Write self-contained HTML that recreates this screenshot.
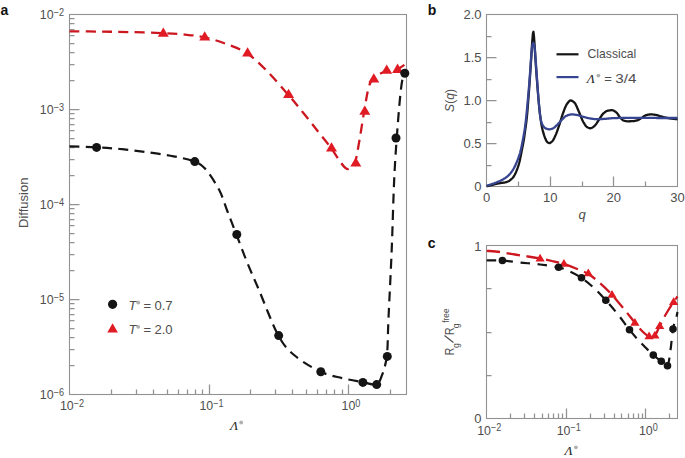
<!DOCTYPE html>
<html><head><meta charset="utf-8"><style>
html,body{margin:0;padding:0;background:#fff;}
body{width:685px;height:458px;overflow:hidden;}
svg{display:block;}
</style></head><body>
<svg width="685" height="458" viewBox="0 0 685 458">
<rect width="685" height="458" fill="#fff"/>
<rect x="69.50" y="14.50" width="337.00" height="380.00" fill="none" stroke="#929292" stroke-width="1.1"/>
<path d="M111.50,394.50V389.50 M136.50,394.50V389.50 M153.50,394.50V389.50 M167.50,394.50V389.50 M178.50,394.50V389.50 M187.50,394.50V389.50 M195.50,394.50V389.50 M202.50,394.50V389.50 M209.50,394.50V384.50 M250.50,394.50V389.50 M275.50,394.50V389.50 M292.50,394.50V389.50 M306.50,394.50V389.50 M317.50,394.50V389.50 M326.50,394.50V389.50 M334.50,394.50V389.50 M342.50,394.50V389.50 M348.50,394.50V384.50 M390.50,394.50V389.50 M69.50,365.50H74.50 M69.50,349.50H74.50 M69.50,337.50H74.50 M69.50,328.50H74.50 M69.50,320.50H74.50 M69.50,314.50H74.50 M69.50,308.50H74.50 M69.50,303.50H74.50 M69.50,299.50H79.50 M69.50,270.50H74.50 M69.50,254.50H74.50 M69.50,242.50H74.50 M69.50,233.50H74.50 M69.50,225.50H74.50 M69.50,219.50H74.50 M69.50,213.50H74.50 M69.50,208.50H74.50 M69.50,204.50H79.50 M69.50,175.50H74.50 M69.50,159.50H74.50 M69.50,147.50H74.50 M69.50,138.50H74.50 M69.50,130.50H74.50 M69.50,124.50H74.50 M69.50,118.50H74.50 M69.50,113.50H74.50 M69.50,109.50H79.50 M69.50,80.50H74.50 M69.50,64.50H74.50 M69.50,52.50H74.50 M69.50,43.50H74.50 M69.50,35.50H74.50 M69.50,29.50H74.50 M69.50,23.50H74.50 M69.50,18.50H74.50" stroke="#929292" stroke-width="1.25" fill="none"/>
<g font-family='"Liberation Sans", sans-serif' fill="#4e4e4e">
<text transform="translate(64.00,19.20) scale(0.91,1)" text-anchor="end" font-size="13.6">10<tspan font-size="10" dy="-3.6">−2</tspan></text>
<text transform="translate(64.00,114.20) scale(0.91,1)" text-anchor="end" font-size="13.6">10<tspan font-size="10" dy="-3.6">−3</tspan></text>
<text transform="translate(64.00,209.20) scale(0.91,1)" text-anchor="end" font-size="13.6">10<tspan font-size="10" dy="-3.6">−4</tspan></text>
<text transform="translate(64.00,304.20) scale(0.91,1)" text-anchor="end" font-size="13.6">10<tspan font-size="10" dy="-3.6">−5</tspan></text>
<text transform="translate(64.00,399.20) scale(0.91,1)" text-anchor="end" font-size="13.6">10<tspan font-size="10" dy="-3.6">−6</tspan></text>
<text transform="translate(72.00,410.30) scale(0.91,1)" text-anchor="middle" font-size="13.6">10<tspan font-size="10" dy="-3.6">−2</tspan></text>
<text transform="translate(211.50,410.30) scale(0.91,1)" text-anchor="middle" font-size="13.6">10<tspan font-size="10" dy="-3.6">−1</tspan></text>
<text transform="translate(351.00,410.30) scale(0.91,1)" text-anchor="middle" font-size="13.6">10<tspan font-size="10" dy="-3.6">0</tspan></text>
<text x="229.90" y="430.40" font-family='"Liberation Serif", serif' font-style="italic" font-size="13.5" fill="#2a2a2a">Λ</text>
<circle cx="241.20" cy="422.50" r="1.9" fill="#b0b0b0"/>
<text transform="translate(27.6,202.8) rotate(-90)" text-anchor="middle" font-size="13">Diffusion</text>
</g>
<path d="M69.50,31.30 C74.58,31.35 89.92,31.47 100.00,31.60 C110.08,31.73 119.58,31.85 130.00,32.10 C140.42,32.35 153.33,32.68 162.50,33.10 C171.67,33.52 178.08,33.92 185.00,34.60 C191.92,35.28 197.33,35.72 204.00,37.20 C210.67,38.68 217.85,40.83 225.00,43.50 C232.15,46.17 239.90,48.62 246.90,53.20 C253.90,57.78 260.17,64.13 267.00,71.00 C273.83,77.87 281.90,87.48 287.90,94.40 C293.90,101.32 297.98,106.32 303.00,112.50 C308.02,118.68 313.33,125.58 318.00,131.50 C322.67,137.42 327.33,143.00 331.00,148.00 C334.67,153.00 337.47,158.07 340.00,161.50 C342.53,164.93 344.37,167.55 346.20,168.60 C348.03,169.65 349.50,168.90 351.00,167.80 C352.50,166.70 353.78,166.63 355.20,162.00 C356.62,157.37 358.00,148.48 359.50,140.00 C361.00,131.52 362.70,119.77 364.20,111.10 C365.70,102.43 367.12,93.27 368.50,88.00 C369.88,82.73 370.75,81.75 372.50,79.50 C374.25,77.25 376.70,75.92 379.00,74.50 C381.30,73.08 383.30,71.87 386.30,71.00 C389.30,70.13 393.63,70.55 397.00,69.30 C400.37,68.05 404.92,64.47 406.50,63.50" fill="none" stroke="#cc1720" stroke-width="2.3" stroke-dasharray="10 6.3"/>
<path d="M69.50,146.40 C73.93,146.53 87.68,146.77 96.10,147.20 C104.52,147.63 111.82,148.22 120.00,149.00 C128.18,149.78 136.27,150.68 145.20,151.90 C154.13,153.12 165.42,154.70 173.60,156.30 C181.78,157.90 189.07,159.47 194.30,161.50 C199.53,163.53 200.88,163.82 205.00,168.50 C209.12,173.18 215.25,182.43 219.00,189.60 C222.75,196.77 224.62,204.07 227.50,211.50 C230.38,218.93 233.05,225.78 236.30,234.20 C239.55,242.62 243.17,252.57 247.00,262.00 C250.83,271.43 254.10,278.58 259.30,290.80 C264.50,303.02 272.30,324.52 278.20,335.30 C284.10,346.08 287.68,349.45 294.70,355.50 C301.72,361.55 312.42,367.83 320.30,371.60 C328.18,375.37 334.98,376.35 342.00,378.10 C349.02,379.85 356.73,381.07 362.40,382.10 C368.07,383.13 372.82,385.23 376.00,384.30 C379.18,383.37 379.70,381.20 381.50,376.50 C383.30,371.80 385.63,365.85 386.80,356.10 C387.97,346.35 387.68,335.68 388.50,318.00 C389.32,300.32 390.72,273.83 391.70,250.00 C392.68,226.17 393.30,197.03 394.40,175.00 C395.50,152.97 397.12,132.80 398.30,117.80 C399.48,102.80 400.50,92.47 401.50,85.00 C402.50,77.53 403.83,75.00 404.30,73.00" fill="none" stroke="#151515" stroke-width="2.2" stroke-dasharray="10 6.3"/>
<path d="M163.30,27.52L168.80,36.82L157.80,36.82Z" fill="#e01b24"/>
<path d="M204.70,31.22L210.20,40.52L199.20,40.52Z" fill="#e01b24"/>
<path d="M247.60,47.22L253.10,56.52L242.10,56.52Z" fill="#e01b24"/>
<path d="M288.60,88.82L294.10,98.12L283.10,98.12Z" fill="#e01b24"/>
<path d="M331.50,142.22L337.00,151.52L326.00,151.52Z" fill="#e01b24"/>
<path d="M355.80,157.22L361.30,166.52L350.30,166.52Z" fill="#e01b24"/>
<path d="M364.80,105.42L370.30,114.72L359.30,114.72Z" fill="#e01b24"/>
<path d="M373.80,73.22L379.30,82.52L368.30,82.52Z" fill="#e01b24"/>
<path d="M386.70,64.42L392.20,73.72L381.20,73.72Z" fill="#e01b24"/>
<path d="M397.60,63.62L403.10,72.92L392.10,72.92Z" fill="#e01b24"/>
<circle cx="96.60" cy="147.40" r="4.50" fill="#151515"/>
<circle cx="194.80" cy="161.60" r="4.50" fill="#151515"/>
<circle cx="236.80" cy="234.50" r="4.50" fill="#151515"/>
<circle cx="278.70" cy="335.60" r="4.50" fill="#151515"/>
<circle cx="320.80" cy="371.80" r="4.50" fill="#151515"/>
<circle cx="362.90" cy="382.40" r="4.50" fill="#151515"/>
<circle cx="376.70" cy="384.60" r="4.50" fill="#151515"/>
<circle cx="387.30" cy="356.40" r="4.50" fill="#151515"/>
<circle cx="396.00" cy="138.00" r="4.50" fill="#151515"/>
<circle cx="404.80" cy="73.30" r="4.50" fill="#151515"/>
<circle cx="112.60" cy="304.30" r="4.60" fill="#151515"/>
<path d="M112.60,323.16L117.90,332.56L107.30,332.56Z" fill="#e01b24"/>
<g font-family='"Liberation Sans", sans-serif' fill="#4e4e4e" font-size="13">
<text x="128.6" y="309.7" font-style="italic">T</text>
<circle cx="138.20" cy="302.50" r="1.9" fill="#b0b0b0"/>
<text x="143.6" y="309.7">=</text>
<text x="154.4" y="309.7" textLength="18.2" lengthAdjust="spacingAndGlyphs">0.7</text>
<text x="128.6" y="334.0" font-style="italic">T</text>
<circle cx="138.20" cy="326.80" r="1.9" fill="#b0b0b0"/>
<text x="143.6" y="334.0">=</text>
<text x="154.4" y="334.0" textLength="18.2" lengthAdjust="spacingAndGlyphs">2.0</text>
</g>
<g font-family='"Liberation Sans", sans-serif' font-weight="bold" fill="#111" font-size="14">
<text x="0.5" y="15.2">a</text>
<text x="427.8" y="15.3">b</text>
<text x="427.8" y="248">c</text>
</g>
<rect x="486.50" y="14.50" width="191.00" height="172.00" fill="none" stroke="#929292" stroke-width="1.1"/>
<path d="M518.50,186.50V181.50 M550.50,186.50V176.50 M582.50,186.50V181.50 M613.50,186.50V176.50 M645.50,186.50V181.50 M486.50,165.50H491.50 M486.50,143.50H496.50 M486.50,122.50H491.50 M486.50,100.50H496.50 M486.50,79.50H491.50 M486.50,57.50H496.50 M486.50,36.50H491.50" stroke="#929292" stroke-width="1.25" fill="none"/>
<g font-family='"Liberation Sans", sans-serif' fill="#4e4e4e" font-size="13">
<text x="481.6" y="191.10" text-anchor="end">0</text>
<text x="481.6" y="148.10" text-anchor="end">0.5</text>
<text x="481.6" y="105.10" text-anchor="end">1.0</text>
<text x="481.6" y="62.10" text-anchor="end">1.5</text>
<text x="481.6" y="19.10" text-anchor="end">2.0</text>
<text x="486.50" y="201.6" text-anchor="middle">0</text>
<text x="550.17" y="201.6" text-anchor="middle">10</text>
<text x="613.83" y="201.6" text-anchor="middle">20</text>
<text x="677.50" y="201.6" text-anchor="middle">30</text>
<text x="582" y="218.5" text-anchor="middle" font-style="italic">q</text>
<text transform="translate(453.8,100.45) rotate(-90)" text-anchor="middle" textLength="22.9" lengthAdjust="spacingAndGlyphs"><tspan font-style="italic">S</tspan>(<tspan font-style="italic">q</tspan>)</text>
<text x="587.6" y="57.9" font-size="13.6" textLength="48.6" lengthAdjust="spacingAndGlyphs">Classical</text>
<text x="586.80" y="82.70" font-family='"Liberation Serif", serif' font-style="italic" font-size="13.5" fill="#2a2a2a">Λ</text>
<circle cx="598.40" cy="75.60" r="1.9" fill="#b0b0b0"/>
<text x="604.2" y="82.7">=</text>
<text x="615.2" y="82.7" textLength="21.2" lengthAdjust="spacingAndGlyphs">3/4</text>
</g>
<path d="M556.5,54.3H578.5" stroke="#151515" stroke-width="2.2"/>
<path d="M556.5,77.1H578.5" stroke="#374590" stroke-width="2.2"/>
<path d="M486.60,186.26 L487.11,186.14 L487.62,186.02 L488.13,185.90 L488.64,185.78 L489.15,185.66 L489.65,185.54 L490.16,185.42 L490.67,185.30 L491.18,185.17 L491.69,185.05 L492.20,184.92 L492.71,184.79 L493.22,184.65 L493.73,184.52 L494.24,184.38 L494.75,184.24 L495.25,184.11 L495.76,183.99 L496.27,183.87 L496.78,183.76 L497.29,183.66 L497.80,183.56 L498.31,183.47 L498.82,183.38 L499.33,183.29 L499.84,183.21 L500.34,183.12 L500.85,183.04 L501.36,182.96 L501.87,182.89 L502.38,182.82 L502.89,182.75 L503.40,182.69 L503.91,182.61 L504.42,182.53 L504.93,182.43 L505.44,182.31 L505.94,182.18 L506.45,182.03 L506.96,181.87 L507.47,181.69 L507.98,181.48 L508.49,181.26 L509.00,180.98 L509.51,180.63 L510.02,180.23 L510.53,179.80 L511.04,179.38 L511.54,178.95 L512.05,178.49 L512.56,177.99 L513.07,177.43 L513.58,176.78 L514.09,175.98 L514.60,175.06 L515.11,174.06 L515.62,173.02 L516.13,171.90 L516.63,170.68 L517.14,169.37 L517.65,167.97 L518.16,166.46 L518.67,164.80 L519.18,162.98 L519.69,160.91 L520.20,158.56 L520.71,156.04 L521.22,153.43 L521.73,150.82 L522.23,148.29 L522.74,145.74 L523.25,143.08 L523.76,140.20 L524.27,136.98 L524.78,133.42 L525.29,129.69 L525.80,125.97 L526.31,122.09 L526.82,117.68 L527.33,112.29 L527.83,106.10 L528.34,99.64 L528.85,92.90 L529.36,85.84 L529.87,78.63 L530.38,71.23 L530.89,63.53 L531.40,54.90 L531.91,46.24 L532.42,39.37 L532.93,33.35 L533.43,31.75 L533.94,36.06 L534.45,42.78 L534.96,50.45 L535.47,59.48 L535.98,67.19 L536.49,74.20 L537.00,80.86 L537.51,87.38 L538.02,93.77 L538.52,99.75 L539.03,105.25 L539.54,110.29 L540.05,114.57 L540.56,118.50 L541.07,122.07 L541.58,125.19 L542.09,127.75 L542.60,129.96 L543.11,131.94 L543.62,133.72 L544.12,135.30 L544.63,136.73 L545.14,138.05 L545.65,139.33 L546.16,140.47 L546.67,141.36 L547.18,141.91 L547.69,142.33 L548.20,142.68 L548.71,142.95 L549.22,143.08 L549.72,143.06 L550.23,142.88 L550.74,142.57 L551.25,142.17 L551.76,141.72 L552.27,141.25 L552.78,140.63 L553.29,139.85 L553.80,138.93 L554.31,137.92 L554.81,136.85 L555.32,135.77 L555.83,134.63 L556.34,133.38 L556.85,132.04 L557.36,130.62 L557.87,129.16 L558.38,127.67 L558.89,126.18 L559.40,124.68 L559.91,123.08 L560.41,121.42 L560.92,119.73 L561.43,118.04 L561.94,116.39 L562.45,114.82 L562.96,113.37 L563.47,111.98 L563.98,110.59 L564.49,109.22 L565.00,107.92 L565.51,106.71 L566.01,105.63 L566.52,104.71 L567.03,103.96 L567.54,103.23 L568.05,102.52 L568.56,101.86 L569.07,101.29 L569.58,100.85 L570.09,100.55 L570.60,100.45 L571.11,100.50 L571.61,100.65 L572.12,100.89 L572.63,101.19 L573.14,101.55 L573.65,101.95 L574.16,102.38 L574.67,102.86 L575.18,103.53 L575.69,104.40 L576.20,105.42 L576.70,106.55 L577.21,107.75 L577.72,108.98 L578.23,110.20 L578.74,111.37 L579.25,112.50 L579.76,113.72 L580.27,114.98 L580.78,116.27 L581.29,117.56 L581.80,118.80 L582.30,119.97 L582.81,121.05 L583.32,121.99 L583.83,122.86 L584.34,123.71 L584.85,124.54 L585.36,125.31 L585.87,125.99 L586.38,126.56 L586.89,127.00 L587.40,127.30 L587.90,127.56 L588.41,127.80 L588.92,128.01 L589.43,128.16 L589.94,128.25 L590.45,128.27 L590.96,128.20 L591.47,128.03 L591.98,127.78 L592.49,127.48 L592.99,127.14 L593.50,126.77 L594.01,126.39 L594.52,125.97 L595.03,125.44 L595.54,124.82 L596.05,124.11 L596.56,123.36 L597.07,122.57 L597.58,121.78 L598.09,121.00 L598.59,120.26 L599.10,119.52 L599.61,118.72 L600.12,117.90 L600.63,117.07 L601.14,116.27 L601.65,115.50 L602.16,114.80 L602.67,114.19 L603.18,113.69 L603.69,113.22 L604.19,112.77 L604.70,112.35 L605.21,111.95 L605.72,111.60 L606.23,111.29 L606.74,111.04 L607.25,110.85 L607.76,110.73 L608.27,110.62 L608.78,110.52 L609.29,110.43 L609.79,110.35 L610.30,110.29 L610.81,110.23 L611.32,110.20 L611.83,110.19 L612.34,110.21 L612.85,110.32 L613.36,110.50 L613.87,110.74 L614.38,111.04 L614.88,111.38 L615.39,111.74 L615.90,112.12 L616.41,112.51 L616.92,112.99 L617.43,113.64 L617.94,114.38 L618.45,115.19 L618.96,115.99 L619.47,116.75 L619.98,117.41 L620.48,117.94 L620.99,118.45 L621.50,118.95 L622.01,119.43 L622.52,119.85 L623.03,120.22 L623.54,120.51 L624.05,120.70 L624.56,120.83 L625.07,120.95 L625.58,121.05 L626.08,121.14 L626.59,121.22 L627.10,121.27 L627.61,121.29 L628.12,121.30 L628.63,121.29 L629.14,121.29 L629.65,121.27 L630.16,121.26 L630.67,121.24 L631.17,121.22 L631.68,121.19 L632.19,121.17 L632.70,121.14 L633.21,121.11 L633.72,121.06 L634.23,120.99 L634.74,120.91 L635.25,120.81 L635.76,120.70 L636.27,120.58 L636.77,120.44 L637.28,120.30 L637.79,120.14 L638.30,119.91 L638.81,119.64 L639.32,119.34 L639.83,119.01 L640.34,118.67 L640.85,118.32 L641.36,117.99 L641.87,117.68 L642.37,117.37 L642.88,117.03 L643.39,116.67 L643.90,116.32 L644.41,115.99 L644.92,115.68 L645.43,115.41 L645.94,115.21 L646.45,115.07 L646.96,114.95 L647.47,114.84 L647.97,114.74 L648.48,114.65 L648.99,114.57 L649.50,114.50 L650.01,114.45 L650.52,114.42 L651.03,114.41 L651.54,114.41 L652.05,114.44 L652.56,114.47 L653.06,114.52 L653.57,114.58 L654.08,114.65 L654.59,114.73 L655.10,114.80 L655.61,114.88 L656.12,114.97 L656.63,115.07 L657.14,115.20 L657.65,115.34 L658.16,115.50 L658.66,115.67 L659.17,115.84 L659.68,116.00 L660.19,116.17 L660.70,116.32 L661.21,116.46 L661.72,116.60 L662.23,116.73 L662.74,116.87 L663.25,117.01 L663.76,117.14 L664.26,117.27 L664.77,117.40 L665.28,117.52 L665.79,117.63 L666.30,117.73 L666.81,117.83 L667.32,117.93 L667.83,118.02 L668.34,118.11 L668.85,118.20 L669.35,118.28 L669.86,118.36 L670.37,118.44 L670.88,118.51 L671.39,118.58 L671.90,118.64 L672.41,118.71 L672.92,118.77 L673.43,118.83 L673.94,118.89 L674.45,118.95 L674.95,119.00 L675.46,119.05 L675.97,119.10 L676.48,119.15 L676.99,119.19 L677.50,119.23" fill="none" stroke="#151515" stroke-width="2.3" stroke-linejoin="round"/>
<path d="M486.60,185.74 L487.11,185.60 L487.62,185.46 L488.13,185.31 L488.64,185.16 L489.15,185.00 L489.65,184.85 L490.16,184.69 L490.67,184.52 L491.18,184.36 L491.69,184.19 L492.20,184.02 L492.71,183.84 L493.22,183.66 L493.73,183.47 L494.24,183.29 L494.75,183.09 L495.25,182.90 L495.76,182.70 L496.27,182.50 L496.78,182.29 L497.29,182.08 L497.80,181.87 L498.31,181.66 L498.82,181.44 L499.33,181.21 L499.84,180.98 L500.34,180.74 L500.85,180.50 L501.36,180.25 L501.87,179.99 L502.38,179.72 L502.89,179.44 L503.40,179.15 L503.91,178.85 L504.42,178.53 L504.93,178.20 L505.44,177.86 L505.94,177.49 L506.45,177.11 L506.96,176.72 L507.47,176.30 L507.98,175.86 L508.49,175.40 L509.00,174.91 L509.51,174.38 L510.02,173.82 L510.53,173.21 L511.04,172.57 L511.54,171.89 L512.05,171.17 L512.56,170.41 L513.07,169.60 L513.58,168.75 L514.09,167.85 L514.60,166.88 L515.11,165.83 L515.62,164.73 L516.13,163.57 L516.63,162.38 L517.14,161.15 L517.65,159.88 L518.16,158.55 L518.67,157.13 L519.18,155.63 L519.69,154.04 L520.20,152.32 L520.71,150.42 L521.22,148.25 L521.73,145.85 L522.23,143.26 L522.74,140.58 L523.25,137.86 L523.76,135.08 L524.27,132.13 L524.78,128.89 L525.29,125.15 L525.80,120.84 L526.31,116.15 L526.82,111.04 L527.33,105.63 L527.83,100.09 L528.34,94.42 L528.85,88.52 L529.36,82.30 L529.87,75.37 L530.38,67.81 L530.89,60.57 L531.40,54.28 L531.91,48.51 L532.42,45.26 L532.93,43.29 L533.43,42.80 L533.94,44.15 L534.45,46.52 L534.96,51.21 L535.47,57.38 L535.98,64.01 L536.49,71.42 L537.00,78.86 L537.51,85.84 L538.02,92.78 L538.52,99.26 L539.03,104.96 L539.54,110.40 L540.05,115.07 L540.56,118.37 L541.07,120.76 L541.58,122.63 L542.09,124.02 L542.60,125.12 L543.11,125.97 L543.62,126.59 L544.12,127.13 L544.63,127.61 L545.14,128.02 L545.65,128.36 L546.16,128.61 L546.67,128.79 L547.18,128.94 L547.69,129.08 L548.20,129.19 L548.71,129.27 L549.22,129.31 L549.72,129.30 L550.23,129.24 L550.74,129.13 L551.25,128.99 L551.76,128.83 L552.27,128.64 L552.78,128.45 L553.29,128.21 L553.80,127.89 L554.31,127.51 L554.81,127.08 L555.32,126.62 L555.83,126.14 L556.34,125.67 L556.85,125.20 L557.36,124.70 L557.87,124.17 L558.38,123.61 L558.89,123.04 L559.40,122.47 L559.91,121.90 L560.41,121.35 L560.92,120.82 L561.43,120.31 L561.94,119.76 L562.45,119.20 L562.96,118.64 L563.47,118.10 L563.98,117.57 L564.49,117.09 L565.00,116.66 L565.51,116.30 L566.01,116.01 L566.52,115.80 L567.03,115.59 L567.54,115.39 L568.05,115.20 L568.56,115.02 L569.07,114.86 L569.58,114.72 L570.09,114.60 L570.60,114.51 L571.11,114.44 L571.61,114.41 L572.12,114.41 L572.63,114.42 L573.14,114.46 L573.65,114.50 L574.16,114.55 L574.67,114.62 L575.18,114.69 L575.69,114.77 L576.20,114.85 L576.70,114.94 L577.21,115.03 L577.72,115.12 L578.23,115.22 L578.74,115.35 L579.25,115.50 L579.76,115.65 L580.27,115.82 L580.78,116.00 L581.29,116.17 L581.80,116.35 L582.30,116.51 L582.81,116.67 L583.32,116.82 L583.83,116.96 L584.34,117.10 L584.85,117.24 L585.36,117.38 L585.87,117.51 L586.38,117.65 L586.89,117.78 L587.40,117.90 L587.90,118.02 L588.41,118.13 L588.92,118.24 L589.43,118.33 L589.94,118.41 L590.45,118.49 L590.96,118.57 L591.47,118.66 L591.98,118.74 L592.49,118.82 L592.99,118.89 L593.50,118.96 L594.01,119.02 L594.52,119.08 L595.03,119.13 L595.54,119.17 L596.05,119.20 L596.56,119.22 L597.07,119.23 L597.58,119.23 L598.09,119.22 L598.59,119.21 L599.10,119.19 L599.61,119.17 L600.12,119.14 L600.63,119.12 L601.14,119.09 L601.65,119.06 L602.16,119.02 L602.67,118.99 L603.18,118.96 L603.69,118.93 L604.19,118.89 L604.70,118.86 L605.21,118.83 L605.72,118.79 L606.23,118.74 L606.74,118.70 L607.25,118.65 L607.76,118.60 L608.27,118.55 L608.78,118.50 L609.29,118.45 L609.79,118.40 L610.30,118.35 L610.81,118.31 L611.32,118.26 L611.83,118.22 L612.34,118.19 L612.85,118.16 L613.36,118.13 L613.87,118.11 L614.38,118.09 L614.88,118.08 L615.39,118.06 L615.90,118.04 L616.41,118.03 L616.92,118.01 L617.43,118.00 L617.94,117.99 L618.45,117.97 L618.96,117.96 L619.47,117.95 L619.98,117.93 L620.48,117.92 L620.99,117.91 L621.50,117.90 L622.01,117.89 L622.52,117.89 L623.03,117.88 L623.54,117.87 L624.05,117.87 L624.56,117.86 L625.07,117.86 L625.58,117.85 L626.08,117.85 L626.59,117.85 L627.10,117.85 L627.61,117.85 L628.12,117.85 L628.63,117.85 L629.14,117.85 L629.65,117.85 L630.16,117.85 L630.67,117.85 L631.17,117.85 L631.68,117.85 L632.19,117.85 L632.70,117.85 L633.21,117.85 L633.72,117.85 L634.23,117.85 L634.74,117.85 L635.25,117.85 L635.76,117.85 L636.27,117.85 L636.77,117.85 L637.28,117.85 L637.79,117.85 L638.30,117.85 L638.81,117.85 L639.32,117.85 L639.83,117.85 L640.34,117.85 L640.85,117.85 L641.36,117.86 L641.87,117.86 L642.37,117.86 L642.88,117.86 L643.39,117.87 L643.90,117.87 L644.41,117.87 L644.92,117.88 L645.43,117.88 L645.94,117.89 L646.45,117.89 L646.96,117.90 L647.47,117.90 L647.97,117.90 L648.48,117.91 L648.99,117.91 L649.50,117.92 L650.01,117.92 L650.52,117.93 L651.03,117.93 L651.54,117.93 L652.05,117.94 L652.56,117.94 L653.06,117.95 L653.57,117.95 L654.08,117.95 L654.59,117.96 L655.10,117.96 L655.61,117.97 L656.12,117.97 L656.63,117.98 L657.14,117.98 L657.65,117.99 L658.16,117.99 L658.66,117.99 L659.17,118.00 L659.68,118.00 L660.19,118.01 L660.70,118.01 L661.21,118.01 L661.72,118.02 L662.23,118.02 L662.74,118.02 L663.25,118.02 L663.76,118.02 L664.26,118.02 L664.77,118.02 L665.28,118.02 L665.79,118.02 L666.30,118.02 L666.81,118.02 L667.32,118.02 L667.83,118.02 L668.34,118.02 L668.85,118.02 L669.35,118.02 L669.86,118.02 L670.37,118.02 L670.88,118.02 L671.39,118.02 L671.90,118.02 L672.41,118.02 L672.92,118.02 L673.43,118.02 L673.94,118.02 L674.45,118.02 L674.95,118.02 L675.46,118.02 L675.97,118.02 L676.48,118.02 L676.99,118.02 L677.50,118.02" fill="none" stroke="#374590" stroke-width="2.3" stroke-linejoin="round"/>
<rect x="486.50" y="245.50" width="191.00" height="173.00" fill="none" stroke="#929292" stroke-width="1.1"/>
<path d="M510.50,418.50V413.50 M524.50,418.50V413.50 M534.50,418.50V413.50 M542.50,418.50V413.50 M548.50,418.50V413.50 M553.50,418.50V413.50 M558.50,418.50V413.50 M562.50,418.50V413.50 M566.50,418.50V408.50 M590.50,418.50V413.50 M604.50,418.50V413.50 M614.50,418.50V413.50 M621.50,418.50V413.50 M628.50,418.50V413.50 M633.50,418.50V413.50 M638.50,418.50V413.50 M642.50,418.50V413.50 M645.50,418.50V408.50 M669.50,418.50V413.50 M486.50,375.50H491.50 M486.50,332.50H491.50 M486.50,288.50H491.50" stroke="#929292" stroke-width="1.25" fill="none"/>
<g font-family='"Liberation Sans", sans-serif' fill="#4e4e4e">
<text x="481.4" y="250.7" text-anchor="end" font-size="13">1</text>
<text x="481.4" y="423.2" text-anchor="end" font-size="13">0</text>
<text transform="translate(489.20,434.90) scale(0.91,1)" text-anchor="middle" font-size="13.6">10<tspan font-size="10" dy="-3.6">−2</tspan></text>
<text transform="translate(568.80,434.90) scale(0.91,1)" text-anchor="middle" font-size="13.6">10<tspan font-size="10" dy="-3.6">−1</tspan></text>
<text transform="translate(648.40,434.90) scale(0.91,1)" text-anchor="middle" font-size="13.6">10<tspan font-size="10" dy="-3.6">0</tspan></text>
<text x="564.60" y="455.20" font-family='"Liberation Serif", serif' font-style="italic" font-size="13.5" fill="#2a2a2a">Λ</text>
<circle cx="575.90" cy="447.30" r="1.9" fill="#b0b0b0"/>
<g transform="translate(454.4,354.9) rotate(-90)" font-size="13">
<text x="-0.3" y="0" textLength="7.6" lengthAdjust="spacingAndGlyphs">R</text>
<text x="7.0" y="4.2" font-size="8.8">g</text>
<path d="M12.5,-1.0L19.3,-9.9" stroke="#4e4e4e" stroke-width="1.2"/>
<text x="19.8" y="0" textLength="7.6" lengthAdjust="spacingAndGlyphs">R</text>
<text x="26.6" y="4.2" font-size="8.8">g</text>
<text x="32.2" y="-5.0" font-size="8.8" textLength="14.2" lengthAdjust="spacingAndGlyphs">free</text>
</g>
</g>
<path d="M486.70,250.80 C488.92,251.00 495.28,251.38 500.00,252.00 C504.72,252.62 510.33,253.75 515.00,254.50 C519.67,255.25 523.82,255.82 528.00,256.50 C532.18,257.18 536.10,257.85 540.10,258.60 C544.10,259.35 548.02,260.10 552.00,261.00 C555.98,261.90 560.00,262.75 564.00,264.00 C568.00,265.25 571.95,266.83 576.00,268.50 C580.05,270.17 584.30,271.58 588.30,274.00 C592.30,276.42 596.10,279.58 600.00,283.00 C603.90,286.42 607.70,290.17 611.70,294.50 C615.70,298.83 620.12,304.28 624.00,309.00 C627.88,313.72 632.00,319.13 635.00,322.80 C638.00,326.47 639.68,328.72 642.00,331.00 C644.32,333.28 646.80,335.70 648.90,336.50 C651.00,337.30 652.80,337.55 654.60,335.80 C656.40,334.05 657.80,329.63 659.70,326.00 C661.60,322.37 663.68,318.00 666.00,314.00 C668.32,310.00 671.68,304.92 673.60,302.00 C675.52,299.08 676.85,297.42 677.50,296.50" fill="none" stroke="#cc1720" stroke-width="2.3" stroke-dasharray="13.4 6.6"/>
<path d="M486.70,260.40 C489.32,260.42 496.85,260.15 502.40,260.50 C507.95,260.85 513.73,261.83 520.00,262.50 C526.27,263.17 533.53,263.68 540.00,264.50 C546.47,265.32 553.80,266.23 558.80,267.40 C563.80,268.57 566.20,269.73 570.00,271.50 C573.80,273.27 577.60,275.25 581.60,278.00 C585.60,280.75 589.97,284.28 594.00,288.00 C598.03,291.72 601.80,295.88 605.80,300.30 C609.80,304.72 614.05,309.58 618.00,314.50 C621.95,319.42 625.67,325.05 629.50,329.80 C633.33,334.55 637.03,338.80 641.00,343.00 C644.97,347.20 649.92,351.93 653.30,355.00 C656.68,358.07 658.95,359.57 661.30,361.40 C663.65,363.23 665.87,367.90 667.40,366.00 C668.93,364.10 669.57,356.17 670.50,350.00 C671.43,343.83 672.05,334.33 673.00,329.00 C673.95,323.67 675.45,320.83 676.20,318.00 C676.95,315.17 677.28,313.00 677.50,312.00" fill="none" stroke="#151515" stroke-width="2.2" stroke-dasharray="9.5 7.5"/>
<path d="M540.10,253.72L544.70,261.52L535.50,261.52Z" fill="#e01b24"/>
<path d="M563.90,259.02L568.50,266.82L559.30,266.82Z" fill="#e01b24"/>
<path d="M588.30,268.42L592.90,276.22L583.70,276.22Z" fill="#e01b24"/>
<path d="M612.00,290.02L616.60,297.82L607.40,297.82Z" fill="#e01b24"/>
<path d="M634.90,318.02L639.50,325.82L630.30,325.82Z" fill="#e01b24"/>
<path d="M649.10,331.52L653.70,339.32L644.50,339.32Z" fill="#e01b24"/>
<path d="M654.90,330.82L659.50,338.62L650.30,338.62Z" fill="#e01b24"/>
<path d="M659.70,321.22L664.30,329.02L655.10,329.02Z" fill="#e01b24"/>
<path d="M673.60,297.32L678.20,305.12L669.00,305.12Z" fill="#e01b24"/>
<circle cx="502.40" cy="260.50" r="3.80" fill="#151515"/>
<circle cx="558.60" cy="267.20" r="3.80" fill="#151515"/>
<circle cx="581.50" cy="277.80" r="3.80" fill="#151515"/>
<circle cx="605.80" cy="300.30" r="3.80" fill="#151515"/>
<circle cx="629.50" cy="329.70" r="3.80" fill="#151515"/>
<circle cx="653.30" cy="355.10" r="3.80" fill="#151515"/>
<circle cx="661.30" cy="361.30" r="3.80" fill="#151515"/>
<circle cx="667.50" cy="365.80" r="3.80" fill="#151515"/>
<circle cx="673.00" cy="329.00" r="3.80" fill="#151515"/>
</svg>
</body></html>
